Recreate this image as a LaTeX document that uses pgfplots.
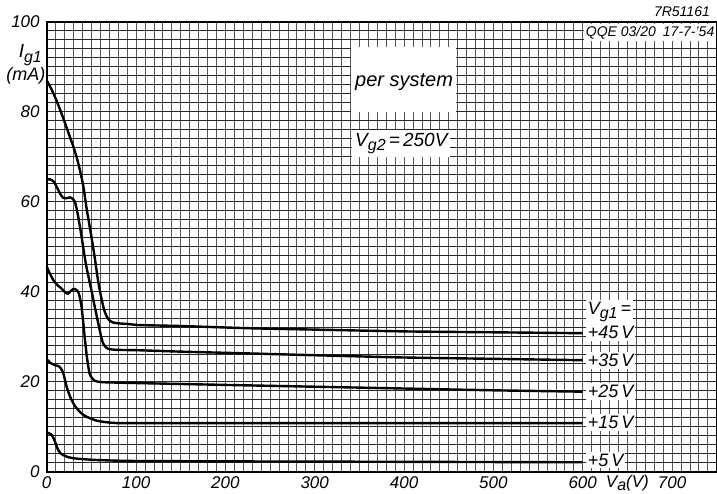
\documentclass[border=0pt]{standalone}
\usepackage{fontspec}
\setmainfont{Liberation Sans}
\usepackage{pgfplots}
\pgfplotsset{compat=1.18}
\newcommand{\sub}[1]{\raisebox{-0.45ex}{\footnotesize #1}}
\begin{document}
\begin{tikzpicture}
\begin{axis}[
  scale only axis,
  width=335pt, height=224.85pt,
  xmin=0, xmax=750, ymin=0, ymax=100,
  xtick={0,100,...,700}, ytick={0,20,...,100},
  minor xtick={0,10,...,750}, minor ytick={0,2,...,100},
  grid=both,
  major tick length=0pt, minor tick length=0pt,
  minor x grid style={black!65, line width=0.35pt},
  major x grid style={black!65, line width=0.35pt},
  minor y grid style={black!85, line width=0.5pt},
  major y grid style={black!85, line width=0.5pt},
  axis line style={black, line width=1pt},
  /pgf/number format/assume math mode=true,
  ticklabel style={font=\fontsize{8.5}{10}\selectfont\itshape},
  xticklabel style={yshift=1.2pt},
  clip=false,
]
\coordinate (SW) at (rel axis cs:0,0);
\coordinate (NE) at (rel axis cs:1,1);

% +45 V
\addplot[black, line width=1.2pt, smooth, tension=0.35] coordinates {
(0,87) (5,85.2) (10,83) (15,80.5) (20,77.8) (25,75) (30,72.2) (34,69.6) (37.5,66.8) (41,63.5) (44.7,58.5) (50,52.3) (54,47.3) (57.7,42.2) (61,38.8) (64,36.2) (67,34.6) (70,33.7) (74,33.2) (80,33) (93,32.8) (104,32.6) (150,32.4) (227,31.9) (300,31.6) (400,31.2) (500,31) (600,30.8)};
% +35 V
\addplot[black, line width=1.2pt, smooth, tension=0.3] coordinates {
(0,65) (4,65) (7.4,64.6) (10,63.8) (13,62.6) (16,61.5) (18.6,60.9) (22,60.8) (26,61) (29,60.7) (31.6,60) (33.5,58.5) (35.3,56.7) (39,52.3) (44,46) (50,40.4) (54,36.5) (57.7,33) (61,30) (63,28.6) (66,27.7) (69,27.3) (78,27.1) (104,27) (150,26.7) (227,26.3) (300,25.9) (400,25.4) (500,25.1) (600,24.8)};
% +25 V
\addplot[black, line width=1.2pt, smooth, tension=0.3] coordinates {
(0,45.6) (3,44.3) (7.4,42.6) (12,41.5) (16.8,40.7) (21,39.8) (24,39.6) (27,40.2) (29.7,40.6) (32,40.6) (35.3,40) (37,38.8) (39,36.7) (41,33) (43,29) (45,25.5) (46.5,23.5) (48,21.8) (50,21) (54,20.2) (63,19.9) (104,19.7) (200,19.3) (300,18.9) (400,18.5) (500,18.1) (600,17.8)};
% +15 V
\addplot[black, line width=1.2pt, smooth, tension=0.3] coordinates {
(0,25) (4,24.2) (9.3,23.7) (13,23.5) (15,23.2) (17,22.6) (18.6,21.9) (20.5,20.4) (22.3,18.9) (25,17.3) (28,15.9) (32,14.5) (37.2,13.3) (42,12.5) (48.4,11.9) (55,11.4) (63,11.1) (72,10.9) (82,10.8) (104,10.8) (600,10.8)};
% +5 V
\addplot[black, line width=1.2pt, smooth, tension=0.3] coordinates {
(0,8.7) (3,8.5) (5.6,8.2) (7.5,7.5) (9.3,6.7) (11,5.7) (13,4.8) (15.5,4.1) (18.6,3.7) (23,3.3) (29.7,3.0) (40,2.8) (56,2.6) (93,2.4) (200,2.3) (400,2.2) (600,2.1)};

% white boxes and annotations
\fill[white] (axis cs:341,80) rectangle (axis cs:458,94.4);
\node[font=\fontsize{10}{12}\selectfont\itshape] at (axis cs:400,86.7) {per system};
\node[fill=white, inner sep=1.5pt, font=\fontsize{9.5}{11}\selectfont\itshape] at (axis cs:397,73) {V\sub{g2}\,=\,250V};

\node[fill=white, inner sep=1pt, anchor=west, font=\fontsize{9}{10}\selectfont\itshape] at (axis cs:603,35.6) {V\sub{g1}\,=};
\node[fill=white, inner sep=1pt, anchor=west, font=\fontsize{9}{10}\selectfont\itshape] at (axis cs:603,30.9) {+45\,V};
\node[fill=white, inner sep=1pt, anchor=west, font=\fontsize{9}{10}\selectfont\itshape] at (axis cs:603,24.8) {+35\,V};
\node[fill=white, inner sep=1pt, anchor=west, font=\fontsize{9}{10}\selectfont\itshape] at (axis cs:603,17.8) {+25\,V};
\node[fill=white, inner sep=1pt, anchor=west, font=\fontsize{9}{10}\selectfont\itshape] at (axis cs:603,11.0) {+15\,V};
\node[fill=white, inner sep=1pt, anchor=west, font=\fontsize{9}{10}\selectfont\itshape] at (axis cs:603,2.6) {+5\,V};

\node[fill=white, inner sep=1pt, anchor=north east, font=\fontsize{7}{8}\selectfont\itshape] at (axis cs:750,99.6) {QQE 03/20\enspace 17-7-'54};
\node[anchor=south east, inner sep=1pt, font=\fontsize{7}{8}\selectfont\itshape] at (axis cs:745,100.6) {7R51161};

\node[anchor=north, inner sep=0pt, font=\fontsize{8.5}{10}\selectfont\itshape] at (axis cs:650,0) [yshift=-1.6pt] {V\raisebox{-0.3ex}{\footnotesize a}(V)};
\node[anchor=east, inner sep=0pt, font=\fontsize{9.5}{11}\selectfont\itshape] at (axis cs:-5,92.6) {I\sub{g1}};
\node[anchor=east, inner sep=0pt, font=\fontsize{9}{10}\selectfont\itshape] at (axis cs:-1,88) {(mA)};
\end{axis}
\pgfresetboundingbox
\useasboundingbox ([shift={(-23.35pt,-10.65pt)}]SW) rectangle ([shift={(0.15pt,11pt)}]NE);
\end{tikzpicture}
\end{document}
